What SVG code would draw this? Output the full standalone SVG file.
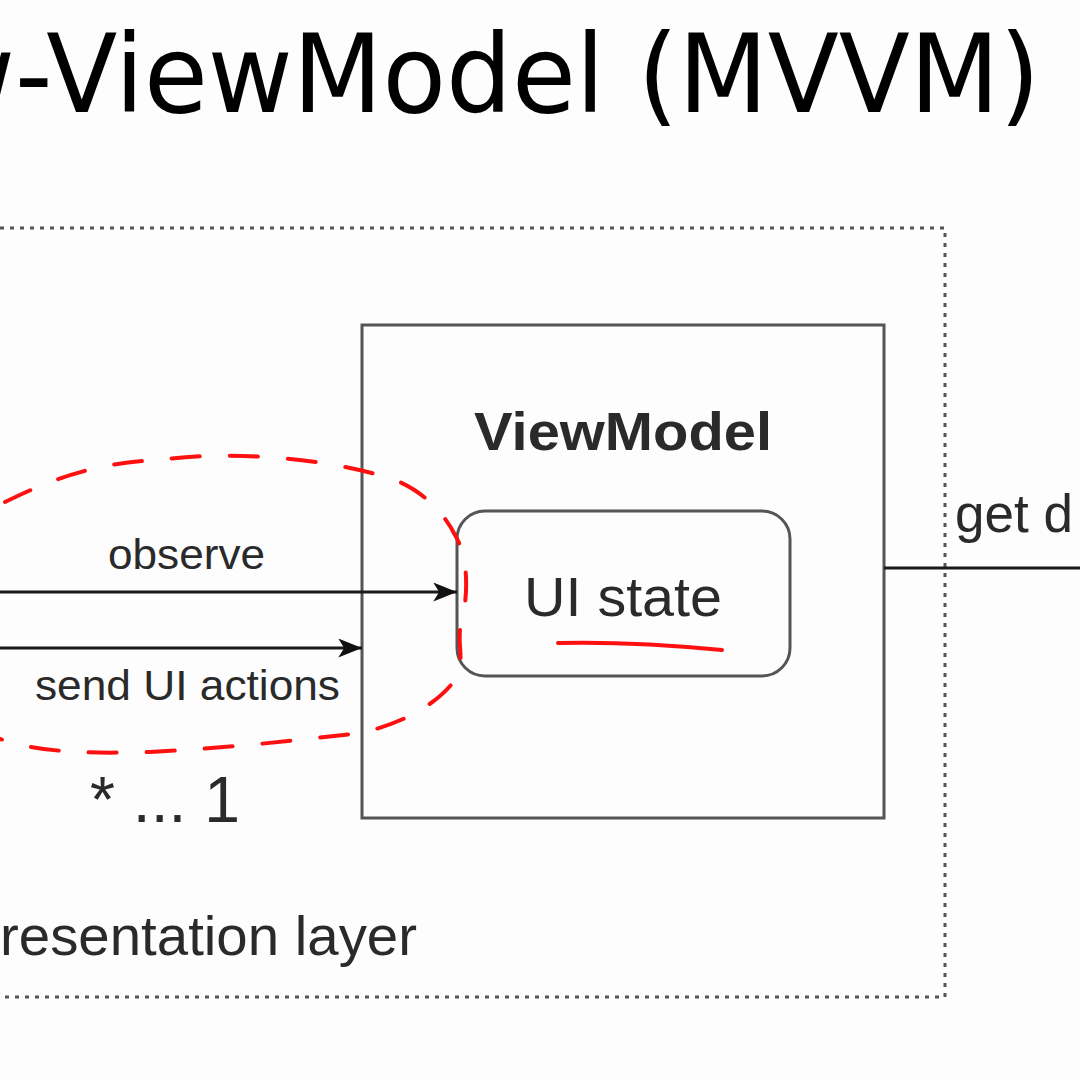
<svg xmlns="http://www.w3.org/2000/svg" width="1080" height="1080" viewBox="0 0 1080 1080">
<defs>
<style>
.t{font-family:"Liberation Sans",Arial,sans-serif;fill:#2a2a2a}
.box{fill:none;stroke:#555;stroke-width:3}
.ln{stroke:#1a1a1a;stroke-width:3;fill:none}
</style>
<marker id="a2" viewBox="0 0 20 16" refX="20" refY="8" markerWidth="24" markerHeight="19" markerUnits="userSpaceOnUse" orient="auto">
<path d="M0,0 L20,8 L0,16 L5,8 Z" fill="#111"/>
</marker>
</defs>
<rect width="1080" height="1080" fill="#fdfdfd"/>
<g id="title">
<text x="1040" y="112" text-anchor="end" font-family="'DejaVu Sans',Tahoma,Verdana,sans-serif" font-size="108" fill="#000" textLength="1110" lengthAdjust="spacingAndGlyphs">w-ViewModel (MVVM)</text>
</g>
<g id="presentation-layer">
<rect x="-20" y="228" width="965" height="769" fill="none" stroke="#555" stroke-width="3" stroke-dasharray="4 6"/>
<text class="t" x="0" y="955" font-size="56" textLength="417" lengthAdjust="spacingAndGlyphs">resentation layer</text>
</g>
<g id="viewmodel">
<rect class="box" x="362" y="325" width="522" height="493" fill="#fff"/>
<text class="t" x="474" y="450" font-size="54" font-weight="bold" textLength="298" lengthAdjust="spacingAndGlyphs">ViewModel</text>
</g>
<g id="ui-state">
<rect class="box" x="457" y="511" width="333" height="165" rx="28" fill="#fff"/>
<text class="t" x="524" y="616" font-size="56" textLength="198" lengthAdjust="spacingAndGlyphs">UI state</text>
</g>
<g id="connectors">
<line class="ln" x1="0" y1="592" x2="457" y2="592" marker-end="url(#a2)"/>
<line class="ln" x1="0" y1="648" x2="362" y2="648" marker-end="url(#a2)"/>
<line class="ln" x1="884" y1="568" x2="1080" y2="568"/>
<text class="t" x="108" y="569" font-size="43" textLength="157" lengthAdjust="spacingAndGlyphs">observe</text>
<text class="t" x="35" y="700" font-size="43" textLength="305" lengthAdjust="spacingAndGlyphs">send UI actions</text>
<text class="t" x="90" y="822" font-size="64" textLength="150" lengthAdjust="spacingAndGlyphs">* ... 1</text>
<text class="t" x="955" y="532" font-size="53">get d</text>
</g>
<g id="annotations" fill="none" stroke="#ff1010" stroke-width="4" stroke-linecap="round">
<path d="M5,502 C40,485 90,462 160,460 C230,450 330,458 395,480 C425,492 445,515 455,535 C470,560 468,600 460,630 C458,650 465,660 455,680 C440,700 410,722 360,733 C300,740 230,748 150,752 C80,754 30,752 -10,735" stroke-dasharray="28 30"/>
<path d="M558,643 C600,642 660,644 722,650"/>
</g>
</svg>
